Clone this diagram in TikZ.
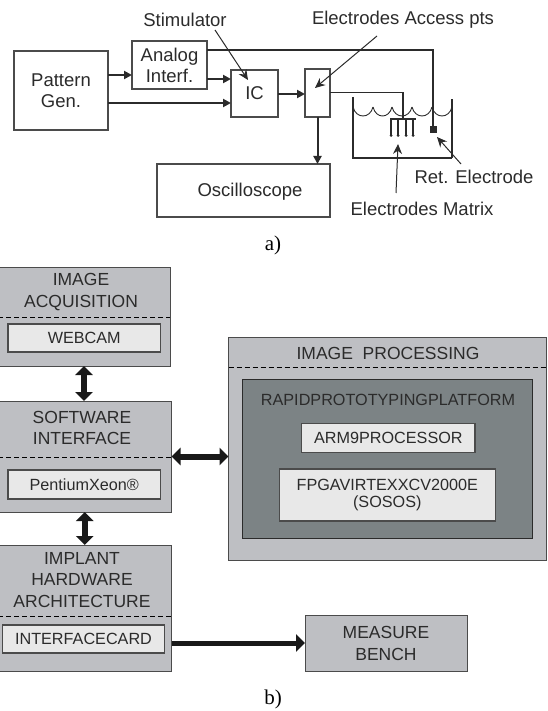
\documentclass[tikz,border=0pt]{standalone}
\usepackage{fontspec}
\setmainfont{Liberation Sans}
\newfontfamily\capfont{Liberation Serif}
\usetikzlibrary{arrows.meta,calc}
\definecolor{ink}{HTML}{2B2B2B}
\definecolor{midgrey}{HTML}{BEBFC3}
\definecolor{darkgrey}{HTML}{7C8385}
\definecolor{lightgrey}{HTML}{E8E8E8}
\newcommand{\bx}[7][]{\node[#1,minimum width={(#5-#3)*1pt},minimum height={(#6-#4)*1pt}] (#2) at ({(#3+#5)/2},{(#4+#6)/2}) {#7};}
\tikzset{
  lab/.style={font=\fontsize{18.5}{21}\selectfont,text=ink,align=center,inner sep=0pt},
  whitebox/.style={draw=ink!85,line width=1.1pt,fill=white,inner sep=0pt,outer sep=0pt,lab},
  head/.style={font=\fontsize{17.5}{21.5}\selectfont,text=ink,align=center,inner sep=0pt},
  sub/.style={font=\fontsize{16.2}{17.5}\selectfont,text=ink,align=center,inner sep=0pt},
  greybox/.style={draw=ink!85,line width=1pt,fill=midgrey,inner sep=0pt,outer sep=0pt},
  darkbox/.style={draw=ink,line width=1pt,fill=darkgrey,inner sep=0pt,outer sep=0pt},
  lightbox/.style={draw=ink!85,line width=1.1pt,fill=lightgrey,inner sep=0pt,outer sep=0pt,sub},
  flow/.style={draw=ink,line width=2pt,-{Triangle[length=8pt,width=8pt]}},
  thin/.style={draw=ink,line width=1.1pt},
  pointer/.style={draw=ink,line width=1pt,-{Stealth[length=10pt,width=9pt]}},
  bus/.style={draw=black!90,line width=6pt,{Triangle[length=9pt,width=17pt]}-{Triangle[length=9pt,width=17pt]}},
  busone/.style={draw=black!90,line width=5pt,-{Triangle[length=9pt,width=17pt]}},
  divider/.style={draw=black,line width=1pt,dash pattern=on 5pt off 3pt},
  caption/.style={font=\capfont\fontsize{21}{24}\selectfont,text=black,inner sep=0pt}
}
\begin{document}
\begin{tikzpicture}[x=1pt,y=-1pt]
\useasboundingbox (0,0) rectangle (547,711);
% --- part a
\bx[whitebox]{pattern}{14}{51}{108}{130}{Pattern\\Gen.}
\bx[whitebox,line width=1.4pt]{analog}{132}{41}{207}{89}{Analog\\Interf.}
\bx[whitebox]{ic}{231}{70}{278}{117}{IC}
\bx[whitebox]{access}{305}{69}{330}{117}{}
\bx[whitebox]{osc}{157}{164}{330}{217}{}
\node[lab] (osclabel) at (250,192) {Oscilloscope};
\node[lab] (stimlabel) at (185,20) {Stimulator};
\node[lab] (acclabel) at (403,20) {Electrodes Access pts};
\node[lab] (retlabel) at (474,177) {Ret. Electrode};
\node[lab] (matlabel) at (422,209) {Electrodes Matrix};
\node[caption] (capa) at (273,245) {a)};
\draw[flow] (pattern.east |- 0,75) -- (analog.west |- 0,75);
\draw[flow] (analog.east |- 0,79) -- (ic.west |- 0,79);
\draw[flow] (pattern.east |- 0,103) -- (ic.west |- 0,103);
\draw[flow] (ic.east |- 0,94) -- (access.west |- 0,94);
\draw[flow] (access.south) -- (access.south |- osc.north);
% tank
\coordinate (tl) at (353,97);
\coordinate (bl) at (353,158);
\coordinate (br) at (452,158);
\coordinate (tr) at (452,99);
\draw[thin,line width=1.2pt] (tl) -- (bl) -- (br);
\draw[thin,line width=1.6pt] (br) -- (tr);
\foreach \a/\b in {353/373,373/392,392/412,412/432,432/452}
  \draw[thin,line width=.9pt] (\a,107) .. controls (\a+3,119) and (\b-3,119) .. (\b,107);
% electrodes
\node[fill=ink,minimum size=7pt,inner sep=0pt] (ret) at (433,130) {};
\coordinate (bar) at (403,119);
\draw[thin,line width=1.6pt] (390,119) -- (416,119);
\foreach \x in {391,398,406,413}{
  \draw[thin] (\x,119) -- (\x,135);
  \fill[ink] (\x,135.5) circle (1.5pt);
}
\draw[thin] (analog.east |- 0,50) -- (ret.north |- 0,50) -- (ret.north);
\draw[thin] (access.east |- 0,92.5) -- (bar |- 0,92.5);
\draw[thin,line width=1.6pt] (bar |- 0,92.5) -- (bar);
\coordinate (stimtail) at (215,30);
\coordinate (stimhead) at (248,80);
\draw[pointer] (stimtail) -- (stimhead);
\coordinate (acctail) at (377,36);
\coordinate (acchead) at (315,88);
\draw[pointer] (acctail) -- (acchead);
\coordinate (mattail) at (396,193);
\coordinate (mathead) at (398,144);
\draw[pointer] (mattail) -- (mathead);
\coordinate (rettail) at (461,164);
\coordinate (rethead) at (437,137);
\draw[pointer] (rettail) -- (rethead);
% --- part b
\bx[greybox]{acq}{-2}{267}{170}{366}{}
\bx[greybox]{soft}{-2}{401}{171.5}{512}{}
\bx[greybox]{impl}{-2}{545}{171.5}{671}{}
\bx[greybox]{proc}{228.5}{337.7}{546.5}{560}{}
\bx[darkbox]{plat}{242.5}{379}{532.7}{538}{}
\bx[greybox]{bench}{305}{615}{467}{671}{}
\node[head] (acqt) at (81,292) {IMAGE\\ACQUISITION};
\node[head] (softt) at (82,428) {SOFTWARE\\INTERFACE};
\node[head] (implt) at (82,580) {IMPLANT\\HARDWARE\\ARCHITECTURE};
\node[head] (proct) at (388,353) {IMAGE\ \ PROCESSING};
\node[sub] (platt) at (388,400) {RAPIDPROTOTYPINGPLATFORM};
\node[head] (bencht) at (386,643.5) {MEASURE\\BENCH};
\draw[divider] (acq.west |- 0,317) -- (acq.east |- 0,317);
\draw[divider] (soft.west |- 0,457) -- (soft.east |- 0,457);
\draw[divider] (impl.west |- 0,616) -- (impl.east |- 0,616);
\draw[divider] (proc.west |- 0,367) -- (proc.east |- 0,367);
\bx[lightbox]{webcam}{8}{324}{160.5}{352}{WEBCAM}
\bx[lightbox]{pentium}{8}{470}{160.5}{499}{PentiumXeon®}
\bx[lightbox]{card}{2.5}{625}{164.5}{653}{INTERFACECARD}
\bx[lightbox]{arm}{301.7}{423.7}{475}{452.3}{ARM9PROCESSOR}
\bx[lightbox]{fpga}{279.3}{469}{495.3}{521}{FPGAVIRTEXXCV2000E\\(SOSOS)}
\draw[bus] (acq.south) -- (acq.south |- soft.north);
\draw[bus] (soft.south) -- (soft.south |- impl.north);
\draw[bus] (soft.east) -- (soft.east -| proc.west);
\draw[busone] (bench.west -| impl.east) -- (bench.west);
\node[caption] (capb) at (273,699) {b)};
\end{tikzpicture}
\end{document}
